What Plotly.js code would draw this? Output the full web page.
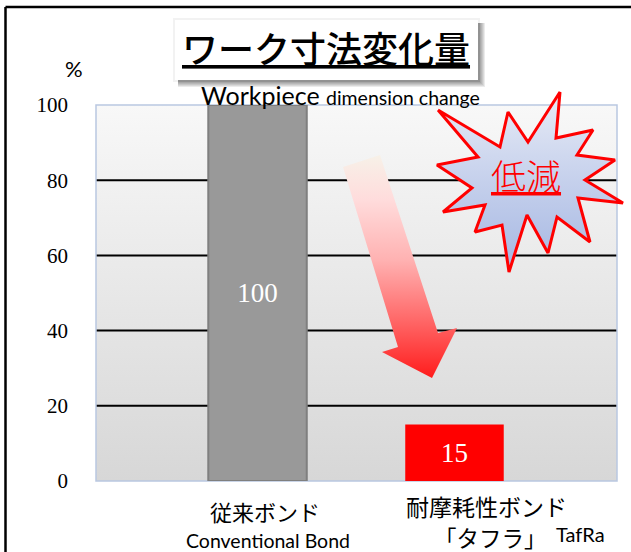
<!DOCTYPE html>
<html><head><meta charset="utf-8">
<script src="https://cdn.plot.ly/plotly-3.0.1.min.js"></script>
<style>html,body{margin:0;padding:0;background:#fff;}#chart{width:631px;height:552px;}</style>
</head><body><div id="chart"></div>
<script>
// ---- data ----
const categories = ['従来ボンド', '耐摩耗性ボンド「タフラ」'];
const values = [100, 15];
const barColors = ['#999999', '#ff0000'];
const barLineColors = ['#7f7f7f', 'rgba(0,0,0,0)'];
const barLineWidths = [2, 0];
const yTicks = [0, 20, 40, 60, 80, 100];
const gridValues = [20, 40, 60, 80];
const labelJa = ['従来ボンド', '耐摩耗性ボンド'];
const labelSub = ['Conventional Bond', '「タフラ」'];
const labelSubEn = 'TafRa';
const titleJa = 'ワーク寸法変化量';
const titleEnBig = 'Workpiece';
const titleEnSmall = 'dimension change';
const badgeText = '低減';
const unitLabel = '%';

// ---- decoration outlines (figure pixels) ----
const arrowPts = [[343,167],[380,155],[438,333],[457,328],[432,378],[382,352],[398,347]];
const starPts = [[438,110],[500,147],[508,112],[528,142],[560,92],[556,138],[593,130],[577,155],
  [615,160],[585,180],[623,203],[578,198],[590,242],[557,217],[548,253],[527,215],[509,272],
  [502,225],[475,232],[485,205],[443,212],[472,188],[437,165],[478,157],[438,110]];

const W = 631, H = 552;
const px = x => x / W, py = y => 1 - y / H;

const plotL = 96, plotR = 617, plotT = 105, plotB = 481;

const bars = {
  type: 'bar', x: categories, y: values, width: 0.5,
  marker: {color: barColors, line: {color: barLineColors, width: barLineWidths}},
  text: values.map(String), textposition: 'inside', insidetextanchor: 'middle',
  textfont: {family: 'Liberation Serif', size: 27, color: '#ffffff'},
  textangle: 0, constraintext: 'none', hoverinfo: 'skip', showlegend: false
};

const arrow = {
  type: 'scatter', mode: 'lines', xaxis: 'x2', yaxis: 'y2',
  x: arrowPts.map(p => p[0]), y: arrowPts.map(p => H - p[1]),
  line: {width: 0, color: 'rgba(0,0,0,0)'}, fill: 'toself',
  fillgradient: {type: 'vertical', colorscale: [[0,'#ff1c1c'],[0.26,'#ff6868'],[0.53,'#ffb2b2'],[0.8,'#ffdcdc'],[1,'#f7f1e8']]},
  hoverinfo: 'skip', showlegend: false
};

const star = {
  type: 'scatter', mode: 'lines', xaxis: 'x2', yaxis: 'y2',
  x: starPts.map(p => p[0]), y: starPts.map(p => H - p[1]),
  line: {width: 3, color: '#ff0000'}, fill: 'toself',
  fillgradient: {type: 'vertical', colorscale: [[0,'#a5b7e2'],[0.5,'#c5d0ec'],[1,'#e8ecf6']]},
  hoverinfo: 'skip', showlegend: false
};

const bgSvg = '<svg xmlns="http://www.w3.org/2000/svg" width="100" height="100" preserveAspectRatio="none">' +
  '<defs><linearGradient id="g" x1="0" y1="0" x2="0" y2="1"><stop offset="0" stop-color="#f8f8f8"/>' +
  '<stop offset="1" stop-color="#d7d7d7"/></linearGradient></defs><rect width="100" height="100" fill="url(#g)"/></svg>';

const shapes = [];
// outer frame
shapes.push({type:'line', xref:'paper', yref:'paper', x0:px(5.5), x1:px(5.5), y0:py(7), y1:0, line:{color:'#000', width:2.5}});
shapes.push({type:'line', xref:'paper', yref:'paper', x0:px(5.5), x1:1, y0:py(7), y1:py(7), line:{color:'#000', width:2.5}});
// gridlines
gridValues.forEach(v => shapes.push({type:'line', xref:'x domain', yref:'y', x0:0, x1:1, y0:v, y1:v, layer:'below', line:{color:'#000', width:2}}));
// plot border
shapes.push({type:'rect', xref:'x domain', yref:'y domain', x0:0, x1:1, y0:0, y1:1, layer:'below', line:{color:'#b9c7e1', width:1.5}});
// title box shadow + box
const bx0 = 175, by0 = 20, bx1 = 478, by1 = 80;
shapes.push({type:'rect', xref:'paper', yref:'paper', x0:px(bx0-2), x1:px(bx1+2), y0:py(by0-2), y1:py(by1+2), fillcolor:'rgba(0,0,0,0.05)', line:{width:0}});
[7,6,5,4,3,2].forEach(s => shapes.push({type:'rect', xref:'paper', yref:'paper', x0:px(bx0+3), x1:px(bx1+s), y0:py(by0+3), y1:py(by1+s), fillcolor:'rgba(0,0,0,0.08)', line:{width:0}}));
shapes.push({type:'rect', xref:'paper', yref:'paper', x0:px(bx0), x1:px(bx1), y0:py(by0), y1:py(by1), fillcolor:'#ffffff', line:{width:0}});

const jp = 'Noto Sans CJK JP';
const en = 'Lato';
const annotations = [
  {text:'<u>' + titleJa + '</u>', xref:'paper', yref:'paper', x:px(326), y:py(47), xanchor:'center', yanchor:'middle', showarrow:false, font:{family:jp, size:36, weight:500, color:'#000'}},
  {text:titleEnBig + ' <span style="font-size:19.5px">' + titleEnSmall + '</span>', xref:'paper', yref:'paper', x:px(199), y:py(95), xanchor:'left', yanchor:'middle', showarrow:false, font:{family:en, size:25, color:'#000'}},
  {text:unitLabel, xref:'paper', yref:'paper', x:px(74), y:py(68), xanchor:'center', yanchor:'middle', showarrow:false, font:{family:en, size:22, color:'#000'}},
  {text:'<u>' + badgeText + '</u>', xref:'paper', yref:'paper', x:px(526), y:py(175), xanchor:'center', yanchor:'middle', showarrow:false, font:{family:jp, size:35, weight:300, color:'#ff0000'}},
  {text:labelJa[0], xref:'x', yref:'paper', x:categories[0], xshift:7.5, y:py(511), xanchor:'center', yanchor:'middle', showarrow:false, font:{family:jp, size:22, color:'#000'}},
  {text:labelSub[0], xref:'x', yref:'paper', x:categories[0], xshift:10.5, y:py(540), xanchor:'center', yanchor:'middle', showarrow:false, font:{family:en, size:19.5, color:'#000'}},
  {text:labelJa[1], xref:'x', yref:'paper', x:categories[1], xshift:31.5, y:py(506), xanchor:'center', yanchor:'middle', showarrow:false, font:{family:jp, size:23, color:'#000'}},
  {text:labelSub[1], xref:'x', yref:'paper', x:categories[1], xshift:36, y:py(536.5), xanchor:'center', yanchor:'middle', showarrow:false, font:{family:jp, size:22.5, color:'#000'}},
  {text:labelSubEn, xref:'x', yref:'paper', x:categories[1], xshift:125.5, y:py(534), xanchor:'center', yanchor:'middle', showarrow:false, font:{family:en, size:20, color:'#000'}}
];

const layout = {
  width: W, height: H, margin: {l:0, r:0, t:0, b:0},
  paper_bgcolor: '#ffffff', plot_bgcolor: 'rgba(0,0,0,0)', showlegend: false,
  xaxis: {type:'category', domain:[px(plotL), px(plotR)], range:[-0.82, 1.825], showticklabels:false, showgrid:false, zeroline:false, showline:false, ticks:'', fixedrange:true},
  yaxis: {domain:[py(plotB), py(plotT)], range:[0, 100], tickvals:yTicks, ticktext:yTicks.map(String), showgrid:false, zeroline:false, showline:false, ticks:'', ticklabelstandoff:27, tickfont:{family:'Liberation Serif', size:21, color:'#000'}, fixedrange:true},
  xaxis2: {domain:[0,1], range:[0, W], visible:false, anchor:'y2', fixedrange:true},
  yaxis2: {domain:[0,1], range:[0, H], visible:false, anchor:'x2', fixedrange:true},
  images: [{source:'data:image/svg+xml;charset=utf-8,' + encodeURIComponent(bgSvg), xref:'paper', yref:'paper',
    x:px(plotL), y:py(plotT), sizex:px(plotR)-px(plotL), sizey:py(plotT)-py(plotB), xanchor:'left', yanchor:'top', sizing:'stretch', layer:'below'}],
  shapes: shapes, annotations: annotations
};

Plotly.newPlot('chart', [bars, arrow, star], layout, {staticPlot:true, displayModeBar:false});
</script>
</body></html>
